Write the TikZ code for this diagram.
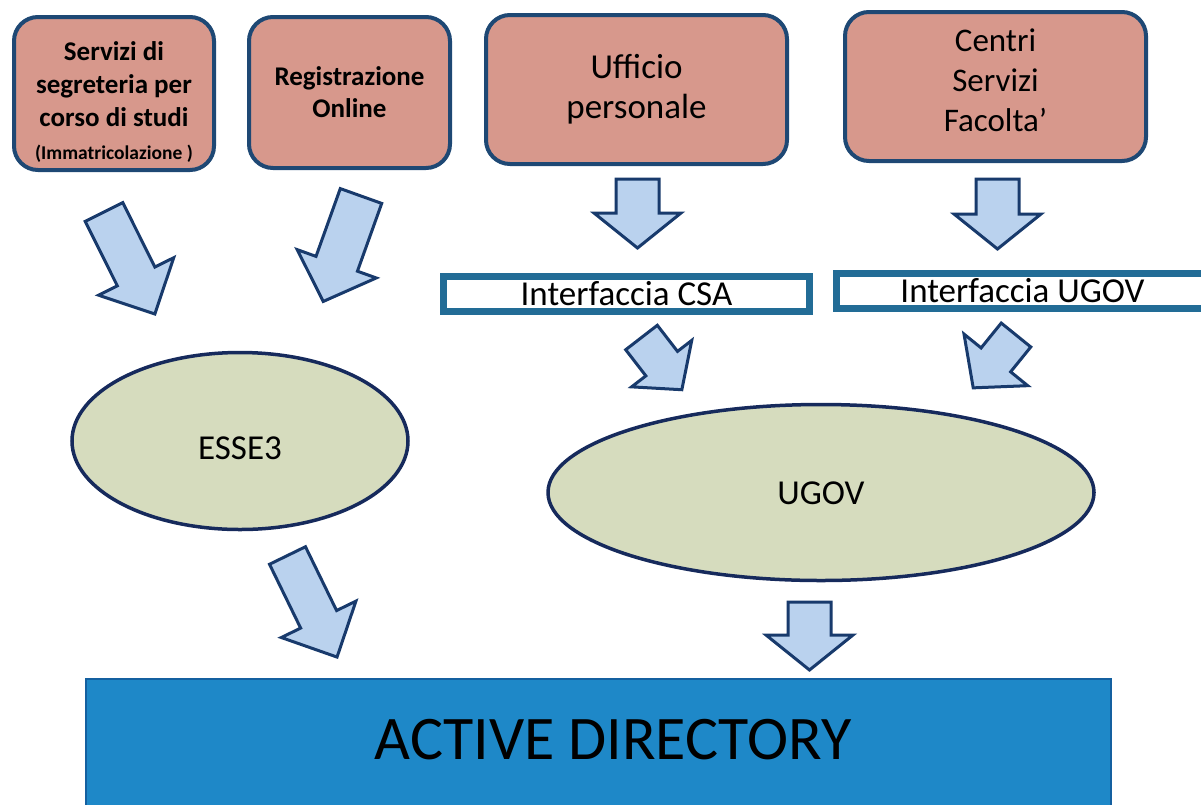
\documentclass[tikz,border=0pt]{standalone}
\usepackage{fontspec}
\setmainfont{Carlito}
\usepackage{xcolor}
\usetikzlibrary{shapes.geometric, positioning}

\definecolor{boxfill}{RGB}{215,152,140}
\definecolor{boxline}{RGB}{30,72,116}
\definecolor{ellfill}{RGB}{214,220,190}
\definecolor{ellline}{RGB}{22,42,92}
\definecolor{arrfill}{RGB}{186,210,238}
\definecolor{arrline}{RGB}{24,58,108}
\definecolor{ifaceline}{RGB}{34,108,150}
\definecolor{adfill}{RGB}{30,136,200}
\definecolor{adline}{RGB}{20,96,160}

\begin{document}
\begin{tikzpicture}[
    x=1pt, y=-1pt,
    source/.style={rectangle, draw=boxline, line width=4pt, rounded corners=24pt, fill=boxfill, align=center, inner sep=0pt},
    iface/.style={rectangle, draw=ifaceline, line width=7pt, fill=white, inner sep=0pt, minimum height=35pt, font=\fontsize{35}{40}\selectfont},
    system/.style={ellipse, draw=ellline, line width=3.5pt, fill=ellfill, inner sep=0pt, text height=38pt, font=\fontsize{35}{40}\selectfont},
    arrbody/.style={draw=arrline, fill=arrfill, line width=3pt},
    % length, shaft width, head width, head length
    pics/blockarrow/.style n args={4}{code={
        \draw[arrbody] (0,{-#2/2}) -- ({#1-#4},{-#2/2}) -- ({#1-#4},{-#3/2}) -- (#1,0)
            -- ({#1-#4},{#3/2}) -- ({#1-#4},{#2/2}) -- (0,{#2/2}) -- cycle;
    }}
]
\useasboundingbox (0,0) rectangle (1201,804);
\clip (0,0) rectangle (1201,804);

% Sources
\node[source, minimum width=200pt, minimum height=153pt, font=\fontsize{27}{33}\selectfont\bfseries] (segr) at (114,93.5)
    {\rule{0pt}{36pt}Servizi di\\segreteria per\\corso di studi\\{\fontsize{19.5}{33}\selectfont(Immatricolazione )}};
\node[source, minimum width=201pt, minimum height=151pt, font=\fontsize{27}{32}\selectfont\bfseries] (reg) at (349.5,92.5)
    {Registrazione\\Online};
\node[source, minimum width=301pt, minimum height=149pt, font=\fontsize{35}{40}\selectfont] (uff) at (636.5,89.5)
    {Ufficio\\personale};
\node[source, minimum width=301pt, minimum height=149pt, font=\fontsize{33}{40}\selectfont] (csf) at (995.5,86.5)
    {Centri\\Servizi\\Facolta'\rule[-12pt]{0pt}{0pt}};

% Interfaces
\node[iface, minimum width=366pt] (csa) at (626.5,294) {Interfaccia CSA};
\node[iface, minimum width=372pt] (ugi) at (1022.5,291) {Interfaccia UGOV};

% Systems
\node[system, minimum width=336pt, minimum height=177pt] (esse) at (240,441) {ESSE3};
\node[system, minimum width=546pt, minimum height=176pt, text height=24pt] (ugov) at (821,492.5) {UGOV};

% Active Directory
\node[rectangle, draw=adline, line width=1.5pt, fill=adfill, minimum width=1025pt, minimum height=142pt] (ad) at (598.5,750) {};
\node[font=\fontsize{62}{70}\selectfont] (adtext) at ([xshift=14.5pt, yshift=10pt]ad.center) {ACTIVE DIRECTORY};

% Block arrows
\pic[rotate=-63.5]  (a1) at (104,212)     {blockarrow={114}{42}{84}{42}};
\pic[rotate=-109.7] (a2) at (361,196)     {blockarrow={112}{44}{84}{40}};
\pic[rotate=-90]    (a3) at (637.5,179)   {blockarrow={69}{43}{87}{35}};
\pic[rotate=-90]    (a4) at (997.5,179)   {blockarrow={70}{43}{87}{35}};
\pic[rotate=-52.3]  (a5) at (641.5,337.5) {blockarrow={66}{40}{76}{33}};
\pic[rotate=-129]   (a6) at (1016,335)    {blockarrow={68}{38}{82}{36}};
\pic[rotate=-64]    (a7) at (287.5,555.5) {blockarrow={113}{40}{83}{42}};
\pic[rotate=-90]    (a8) at (809.5,602)   {blockarrow={68}{43}{87}{35}};

\end{tikzpicture}
\end{document}
